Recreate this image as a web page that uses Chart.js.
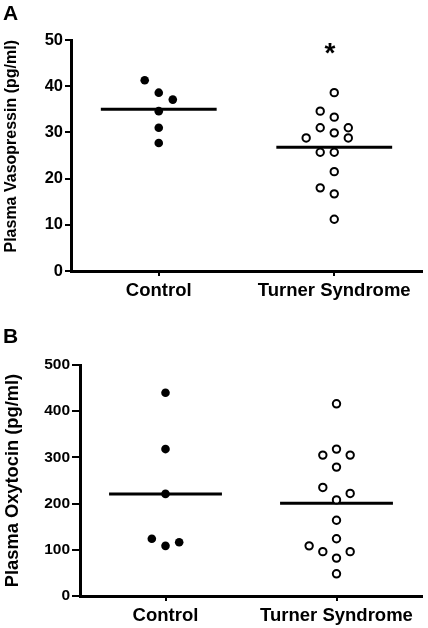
<!DOCTYPE html>
<html>
<head>
<meta charset="utf-8">
<script src="https://cdn.jsdelivr.net/npm/chart.js@4/dist/chart.umd.min.js"></script>
<style>
  html, body { margin: 0; padding: 0; background: #fff; }
  #page { position: relative; width: 428px; height: 628px; overflow: hidden; font-family: Arial, "Liberation Sans", sans-serif; }
  .panel { position: absolute; left: 0; }
  .letter { position: absolute; left: 3px; font-weight: bold; font-size: 21px; line-height: 21px; color: #000; }
</style>
</head>
<body>
<div id="page">
  <div class="panel" style="top:0"><canvas id="chartA" width="428" height="310"></canvas></div>
  <div class="panel" style="top:310px"><canvas id="chartB" width="428" height="318"></canvas></div>
  <div class="letter" style="top:2px">A</div>
  <div class="letter" style="top:325px">B</div>
</div>
<script>
const groups = ['Control', 'Turner Syndrome'];

// A: plasma vasopressin (pg/ml)
const vpControl = [41.3, 38.6, 37.1, 34.6, 31.0, 27.7];
const vpTurner = [38.6, 34.6, 33.3, 31.0, 31.0, 29.9, 28.8, 28.8, 25.7, 25.7, 21.5, 18.0, 16.7, 11.2];
const vpMeans = [35.0, 26.8];
const vpTicks = [0, 10, 20, 30, 40, 50];

// B: plasma oxytocin (pg/ml)
const otControl = [440, 318, 221, 124, 108.5, 116.5];
const otTurner = [416, 318, 305, 305, 279, 235, 222, 208, 164, 124, 108.5, 96, 96, 82, 48];
const otMeans = [221, 200.5];
const otTicks = [0, 100, 200, 300, 400, 500];

// sideways slot of each dot inside its column (dot plot spread)
const vpControlSlot = [-1, 0, 1, 0, 0, 0];
const vpTurnerSlot = [0, -1, 0, -1, 1, 0, -2, 1, -1, 0, 0, -1, 0, 0];
const otControlSlot = [0, 0, 0, -1, 0, 1];
const otTurnerSlot = [0, 0, -1, 1, 0, -1, 1, 0, 0, 0, -2, -1, 1, 0, 0];

const FONT = 'Arial, "Liberation Sans", sans-serif';
const slotWidth = 0.08;
const meanHalf = 0.33;

// significance star over the Turner column in A
const sigPlugin = {
  id: 'sig',
  afterDatasetsDraw(chart, args, opts) {
    if (!opts.text) return;
    const {ctx, scales} = chart;
    ctx.save();
    ctx.font = 'bold 28px ' + FONT;
    ctx.fillStyle = '#000';
    ctx.textAlign = 'center';
    const m = ctx.measureText(opts.text);
    const px = scales.x.getPixelForValue(opts.x);
    const py = scales.y.getPixelForValue(opts.y);
    ctx.fillText(opts.text, px, py + (m.actualBoundingBoxAscent - m.actualBoundingBoxDescent) / 2);
    ctx.restore();
  }
};

const makeChart = (id, p) => {
  const dots = (vals, slots, centre) => vals.map((v, i) => ({ x: centre + slots[i] * slotWidth, y: v }));
  const bar = (m, centre) => [{ x: centre - meanHalf, y: m }, { x: centre + meanHalf, y: m }];

  return new Chart(document.getElementById(id), {
    type: 'scatter',
    data: {
      datasets: [
        { data: dots(p.control, p.controlSlot, 1), pointRadius: 4.3, pointBackgroundColor: '#000', pointBorderWidth: 0, order: 0 },
        { data: dots(p.turner, p.turnerSlot, 2), pointRadius: 3.7, pointBackgroundColor: '#fff', pointBorderColor: '#000', pointBorderWidth: 2, order: 0 },
        { data: bar(p.means[0], 1), showLine: true, borderColor: '#000', borderWidth: 3, pointRadius: 0, order: 1 },
        { data: bar(p.means[1], 2), showLine: true, borderColor: '#000', borderWidth: 3, pointRadius: 0, order: 1 }
      ]
    },
    options: {
      responsive: false,
      animation: false,
      events: [],
      layout: { padding: { top: p.padTop, left: 0, right: 0, bottom: 0 } },
      plugins: {
        legend: { display: false },
        tooltip: { enabled: false },
        sig: p.sig || {}
      },
      scales: {
        x: {
          type: 'linear',
          min: 0.5,
          max: 2.5,
          afterBuildTicks: s => { s.ticks = groups.map((g, i) => ({ value: i + 1 })); },
          afterFit: s => { s.height = p.xHeight; },
          border: { color: '#000', width: 3 },
          grid: { drawOnChartArea: false, color: '#000', lineWidth: 2, tickLength: 5 },
          ticks: {
            callback: (v, i) => groups[i],
            color: '#000',
            padding: 4,
            maxRotation: 0,
            autoSkip: false,
            font: { family: FONT, size: 18.5, weight: 'bold' }
          }
        },
        y: {
          min: 0,
          max: p.ticks[p.ticks.length - 1],
          afterBuildTicks: s => { s.ticks = p.ticks.map(v => ({ value: v })); },
          afterFit: s => { s.width = p.yWidth; },
          border: { color: '#000', width: 3 },
          grid: { drawOnChartArea: false, color: '#000', lineWidth: 2, tickLength: p.tickLen },
          ticks: {
            color: '#000',
            padding: 2,
            font: { family: FONT, size: p.tickSize, weight: 'bold' }
          },
          title: {
            display: true,
            text: p.title,
            color: '#000',
            align: p.titleAlign,
            padding: { top: 2, bottom: 0 },
            font: { family: FONT, size: p.titleSize, weight: 'bold' }
          }
        }
      }
    },
    plugins: [sigPlugin]
  });
};

makeChart('chartA', {
  control: vpControl, turner: vpTurner, means: vpMeans, ticks: vpTicks,
  controlSlot: vpControlSlot, turnerSlot: vpTurnerSlot,
  title: 'Plasma Vasopressin (pg/ml)', titleAlign: 'end',
  padTop: 40, xHeight: 39, yWidth: 71, tickLen: 6, tickSize: 16.5, titleSize: 16,
  sig: { text: '*', x: 1.975, y: 48.2 }
});

makeChart('chartB', {
  control: otControl, turner: otTurner, means: otMeans, ticks: otTicks,
  controlSlot: otControlSlot, turnerSlot: otTurnerSlot,
  title: 'Plasma Oxytocin (pg/ml)', titleAlign: 'center',
  padTop: 55, xHeight: 32, yWidth: 80, tickLen: 8, tickSize: 15.5, titleSize: 18.3
});
</script>
</body>
</html>
